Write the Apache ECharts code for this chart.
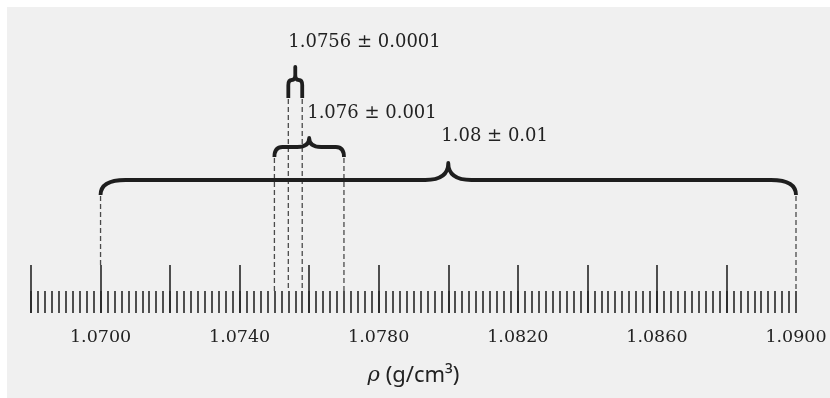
<!DOCTYPE html>
<html>
<head>
<meta charset="utf-8">
<script src="https://cdn.jsdelivr.net/npm/echarts@6/dist/echarts.min.js"></script>
<style>
  html, body { margin: 0; padding: 0; background: #fff; }
  #chart { width: 830px; height: 398px; }
</style>
</head>
<body>
<div id="chart"></div>
<script>
// axis
const axisMin = 1.068;
const axisMax = 1.090;
const majorTicks = [1.068, 1.070, 1.072, 1.074, 1.076, 1.078, 1.080, 1.082, 1.084, 1.086, 1.088];
const tickLabels = ['1.0700', '1.0740', '1.0780', '1.0820', '1.0860', '1.0900'];

// braces: value ± uncertainty
const braceCenters = [1.0756, 1.076, 1.08];
const braceLows = [1.0754, 1.075, 1.070];
const braceHighs = [1.0758, 1.077, 1.090];
const braceLabels = ['1.0756 ± 0.0001', '1.076 ± 0.001', '1.08 ± 0.01'];
const braceLevels = [233, 166, 133];

// brace look (pixels)
const braceShapes = [
  { drop: 18, rise: 13, r: 8, w: 8, dx: -7, dy: 25 },
  { drop: 10, rise: 9, r: 8, w: 12, dx: -2, dy: 25 },
  { drop: 15, rise: 17, r: 25, w: 23, dx: -7, dy: 27 },
];

const MAJOR_LEN = 48;
const MINOR_LEN = 22;

function bracePath(x1, xc, x2, yLine, yEnd, yPeak, r, w) {
  const rl = Math.min(r, (xc - x1) / 2);
  const rr = Math.min(r, (x2 - xc) / 2);
  const wl = Math.min(w, (xc - x1) / 2);
  const wr = Math.min(w, (x2 - xc) / 2);
  const cvl = Math.min(yEnd - yLine, rl * 1.5);
  const cvr = Math.min(yEnd - yLine, rr * 1.5);
  const cp = Math.min(yLine - yPeak, Math.min(wl, wr) * 1.5);
  return 'M' + x1 + ',' + yEnd +
    ' L' + x1 + ',' + (yLine + cvl) +
    ' Q' + x1 + ',' + yLine + ' ' + (x1 + rl) + ',' + yLine +
    ' L' + (xc - wl) + ',' + yLine +
    ' Q' + xc + ',' + yLine + ' ' + xc + ',' + (yLine - cp) +
    ' L' + xc + ',' + yPeak +
    ' L' + xc + ',' + (yLine - cp) +
    ' Q' + xc + ',' + yLine + ' ' + (xc + wr) + ',' + yLine +
    ' L' + (x2 - rr) + ',' + yLine +
    ' Q' + x2 + ',' + yLine + ' ' + x2 + ',' + (yLine + cvr) +
    ' L' + x2 + ',' + yEnd;
}

function isMajor(v) {
  return majorTicks.some(t => Math.abs(t - v) < 1e-7);
}

const braceData = braceCenters.map((c, i) => [c, braceLevels[i], braceLows[i], braceHighs[i], i]);

const chart = echarts.init(document.getElementById('chart'));

const option = {
  backgroundColor: '#ffffff',
  animation: false,
  graphic: [
    {
      type: 'rect',
      z: -1,
      silent: true,
      shape: { x: 7, y: 7, width: 823, height: 391 },
      style: { fill: '#f0f0f0' },
    },
  ],
  grid: {
    left: 31,
    right: 34,
    top: 13,
    bottom: 85,
    outerBoundsMode: 'none',
  },
  xAxis: [
    {
      // minor ticks
      type: 'value',
      position: 'bottom',
      min: axisMin,
      max: axisMax,
      interval: 0.0002,
      axisLine: { show: false },
      axisTick: {
        show: true,
        inside: true,
        length: MINOR_LEN,
        lineStyle: { color: '#262626', width: 1.6 },
      },
      axisLabel: { show: false },
      splitLine: { show: false },
    },
    {
      // major ticks + labels
      type: 'value',
      position: 'bottom',
      min: axisMin,
      max: axisMax,
      interval: 0.002,
      axisLine: { show: false },
      axisTick: {
        show: true,
        inside: true,
        length: MAJOR_LEN,
        customValues: majorTicks,
        lineStyle: { color: '#262626', width: 1.6 },
      },
      axisLabel: {
        customValues: tickLabels.map(Number),
        formatter: v => v.toFixed(4),
        fontFamily: 'DejaVu Serif',
        fontSize: 17.5,
        color: '#222',
        margin: 15,
      },
      splitLine: { show: false },
      name: '{r|ρ}{u| (g/cm³)}',
      nameLocation: 'middle',
      nameGap: 52,
      nameTextStyle: {
        rich: {
          r: { fontFamily: 'DejaVu Serif', fontStyle: 'italic', fontSize: 21, color: '#222' },
          u: { fontFamily: 'Noto Sans', fontSize: 22, color: '#222' },
        },
      },
    },
  ],
  yAxis: {
    type: 'value',
    min: 0,
    max: 300,
    show: false,
  },
  series: [
    {
      type: 'custom',
      coordinateSystem: 'cartesian2d',
      clip: false,
      encode: { x: [0, 2, 3], y: 1 },
      data: braceData,
      renderItem: (params, api) => {
        const i = api.value(4);
        const s = braceShapes[i];
        const pc = api.coord([api.value(0), api.value(1)]);
        const pl = api.coord([api.value(2), api.value(1)]);
        const ph = api.coord([api.value(3), api.value(1)]);
        const yLine = pc[1];
        const yEnd = yLine + s.drop;
        const yPeak = yLine - s.rise;
        const children = [];
        [api.value(2), api.value(3)].forEach(v => {
          const base = api.coord([v, 0]);
          const len = isMajor(v) ? MAJOR_LEN : MINOR_LEN;
          children.push({
            type: 'line',
            shape: { x1: base[0], y1: yEnd + 1, x2: base[0], y2: base[1] - len },
            style: { stroke: '#4a4a4a', lineWidth: 1.3, lineDash: [5, 3] },
          });
        });
        children.push({
          type: 'path',
          shape: { pathData: bracePath(pl[0], pc[0], ph[0], yLine, yEnd, yPeak, s.r, s.w) },
          style: { stroke: '#1e1e1e', lineWidth: 3.8, fill: null, lineJoin: 'round', lineCap: 'butt' },
        });
        children.push({
          type: 'text',
          style: {
            text: braceLabels[i],
            x: pc[0] + s.dx,
            y: yPeak - s.dy,
            font: '18px "DejaVu Serif"',
            fill: '#222',
            textAlign: 'left',
            textVerticalAlign: 'middle',
          },
        });
        return { type: 'group', children: children };
      },
    },
  ],
};

chart.setOption(option);
</script>
</body>
</html>
